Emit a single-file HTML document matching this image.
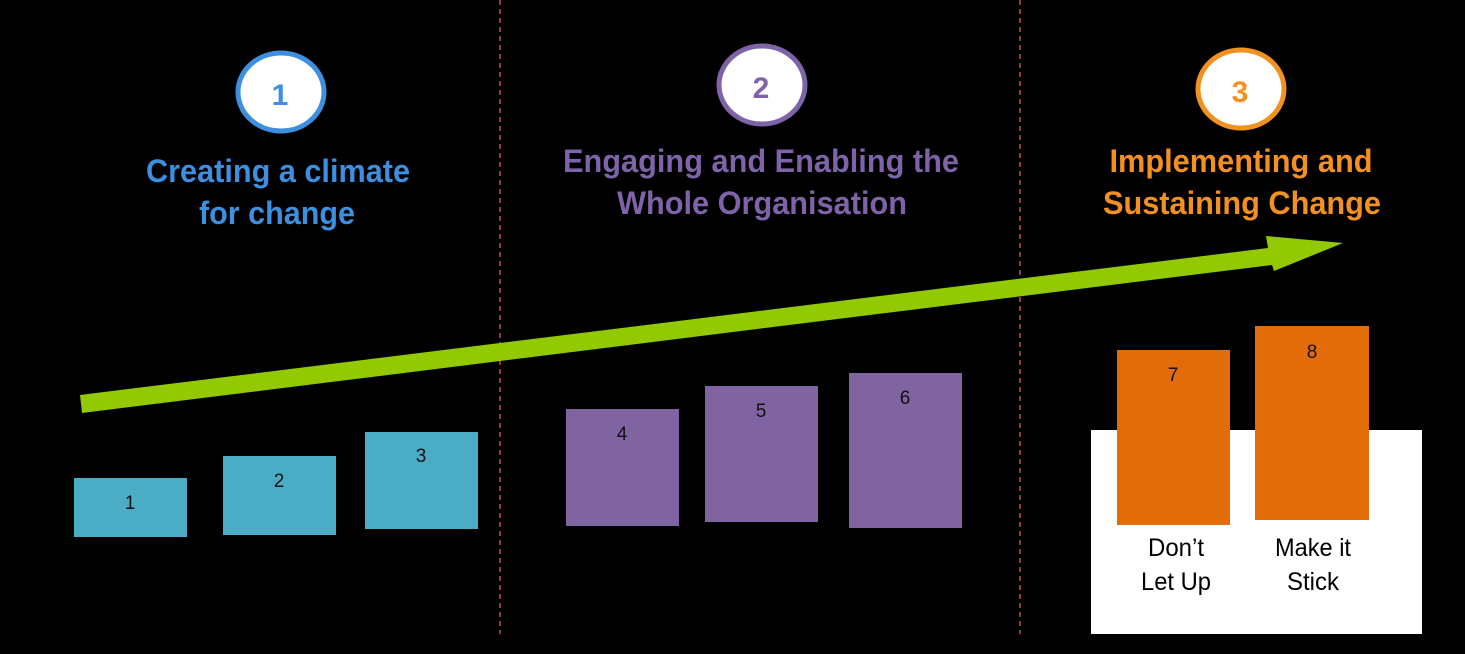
<!DOCTYPE html>
<html><head><meta charset="utf-8"><style>
html,body{margin:0;padding:0;background:#000;}
svg{display:block;}
</style></head><body>
<svg width="1465" height="654" viewBox="0 0 1465 654" xmlns="http://www.w3.org/2000/svg">
<rect width="1465" height="654" fill="#000"/>
<line x1="500" y1="0" x2="500" y2="634" stroke="#c0504d" stroke-width="1.5" stroke-dasharray="5,4"/>
<line x1="1020" y1="0" x2="1020" y2="634" stroke="#c0504d" stroke-width="1.5" stroke-dasharray="5,4"/>
<rect x="1091" y="430" width="331" height="204" fill="#fff"/>
<polygon points="80,395 1268,248 1266,236 1343,243 1274,271 1272,265 82,413" fill="#92c900"/>
<g font-family="Liberation Sans, sans-serif" font-weight="bold" font-size="32" text-anchor="middle">
<ellipse cx="281" cy="92" rx="43" ry="39" fill="#fff" stroke="#3d8fe0" stroke-width="5"/>
<text x="280" y="105" fill="#3d8fe0" font-size="30">1</text>
<ellipse cx="762" cy="85" rx="43" ry="39" fill="#fff" stroke="#7e63a8" stroke-width="5"/>
<text x="761" y="98" fill="#7e63a8" font-size="30">2</text>
<ellipse cx="1241" cy="89" rx="43" ry="39" fill="#fff" stroke="#f29020" stroke-width="5"/>
<text x="1240" y="102" fill="#f29020" font-size="30">3</text>
<text x="278" y="182" fill="#3d8fe0" textLength="264" lengthAdjust="spacingAndGlyphs">Creating a climate</text>
<text x="277" y="224" fill="#3d8fe0" textLength="156" lengthAdjust="spacingAndGlyphs">for change</text>
<text x="761" y="172" fill="#7e63a8" textLength="396" lengthAdjust="spacingAndGlyphs">Engaging and Enabling the</text>
<text x="762" y="214" fill="#7e63a8" textLength="290" lengthAdjust="spacingAndGlyphs">Whole Organisation</text>
<text x="1241" y="172" fill="#f29020" textLength="263" lengthAdjust="spacingAndGlyphs">Implementing and</text>
<text x="1242" y="214" fill="#f29020" textLength="278" lengthAdjust="spacingAndGlyphs">Sustaining Change</text>
</g>
<g fill="#4bacc6">
<rect x="74" y="478" width="113" height="59"/>
<rect x="223" y="456" width="113" height="79"/>
<rect x="365" y="432" width="113" height="97"/>
</g>
<g fill="#8064a2">
<rect x="566" y="409" width="113" height="117"/>
<rect x="705" y="386" width="113" height="136"/>
<rect x="849" y="373" width="113" height="155"/>
</g>
<g fill="#e36c0a">
<rect x="1117" y="350" width="113" height="175"/>
<rect x="1255" y="326" width="114" height="194"/>
</g>
<g font-family="Liberation Sans, sans-serif" font-size="19" fill="#111" text-anchor="middle">
<text x="130" y="509">1</text>
<text x="279" y="487">2</text>
<text x="421" y="462">3</text>
<text x="622" y="440">4</text>
<text x="761" y="417">5</text>
<text x="905" y="404">6</text>
<text x="1173" y="381">7</text>
<text x="1312" y="358">8</text>
</g>
<g font-family="Liberation Sans, sans-serif" font-size="25" fill="#000" text-anchor="middle">
<text x="1176" y="556" textLength="56" lengthAdjust="spacingAndGlyphs">Don’t</text>
<text x="1176" y="590" textLength="70" lengthAdjust="spacingAndGlyphs">Let Up</text>
<text x="1313" y="556" textLength="76" lengthAdjust="spacingAndGlyphs">Make it</text>
<text x="1313" y="590" textLength="52" lengthAdjust="spacingAndGlyphs">Stick</text>
</g>
</svg>
</body></html>
